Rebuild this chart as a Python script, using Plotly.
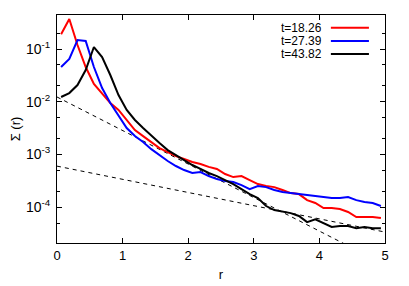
import plotly.graph_objects as go

r = [0.0625 + 0.125 * i for i in range(40)]

sig_t18 = [0.19, 0.37, 0.119, 0.0455, 0.0217, 0.0146, 0.00944, 0.00697, 0.0045, 0.0029,
           0.00223, 0.00172, 0.00132, 0.00111, 0.00093, 0.00082, 0.00072, 0.00066, 0.00058, 0.00053,
           0.000425, 0.000372, 0.000389, 0.000327, 0.000274, 0.000251, 0.00024, 0.000211, 0.000185, 0.000177,
           0.000136, 0.00012, 0.000096, 0.000096, 0.000092, 0.000081, 0.000065, 0.000065, 0.000065, 0.000062]

sig_t27 = [0.0455, 0.0646, 0.148, 0.142, 0.0455, 0.0182, 0.00944, 0.0056, 0.00317, 0.00223,
           0.00172, 0.00126, 0.00097, 0.00075, 0.000603, 0.000506, 0.000444, 0.000463, 0.000389, 0.000341,
           0.000313, 0.000299, 0.000262, 0.00022, 0.000251, 0.00024, 0.000211, 0.000194, 0.000185, 0.000177,
           0.00017, 0.000163, 0.000156, 0.000149, 0.000149, 0.000156, 0.000136, 0.000125, 0.00012, 0.000105]

sig_t43 = [0.0123, 0.0146, 0.0207, 0.04, 0.109, 0.0705, 0.0321, 0.0134, 0.00697, 0.0045,
           0.00317, 0.00223, 0.00164, 0.00121, 0.00097, 0.00078, 0.00063, 0.00053, 0.000444, 0.000389,
           0.000327, 0.000274, 0.00022, 0.000177, 0.000149, 0.000105, 0.000088, 0.000081, 0.000077, 0.000068,
           0.000052, 0.000059, 0.00005, 0.000042, 0.000044, 0.000044, 0.00004, 0.000042, 0.00004, 0.00004]

fit1_r = [0.0, 4.5]
fit1_s = [0.0123, 1.69e-5]
fit2_r = [0.0, 5.0]
fit2_s = [6.0e-4, 3.37e-5]

labels = ["t=18.26", "t=27.39", "t=43.82"]
colors = ["#ff0000", "#0000ff", "#000000"]
series = [sig_t18, sig_t27, sig_t43]

ytick_vals = [1e-4, 1e-3, 1e-2, 1e-1]
ytick_text = ["10<sup>-4</sup>", "10<sup>-3</sup>", "10<sup>-2</sup>", "10<sup>-1</sup>"]
yminor_vals = [2e-5, 5e-5, 2e-4, 5e-4, 2e-3, 5e-3, 2e-2, 5e-2, 2e-1]

FONT = "Liberation Sans, Arial, sans-serif"

fig = go.Figure()
for fr, fs in [(fit1_r, fit1_s), (fit2_r, fit2_s)]:
    fig.add_trace(go.Scatter(x=fr, y=fs, mode="lines",
                             line=dict(color="black", width=1, dash="4px,4px"),
                             showlegend=False, hoverinfo="skip"))
for s, c in zip(series, colors):
    fig.add_trace(go.Scatter(x=r, y=s, mode="lines",
                             line=dict(color=c, width=2),
                             showlegend=False))

# gnuplot-style legend: text right-aligned, sample line to the right
rows_y = [0.944, 0.886, 0.829]
for lab, c, yy in zip(labels, colors, rows_y):
    fig.add_annotation(x=0.811, y=yy, xref="paper", yref="paper", text=lab,
                       showarrow=False, xanchor="right", yanchor="middle",
                       height=11, borderpad=0,
                       font=dict(family=FONT, size=12, color="black"))
    fig.add_shape(type="line", xref="paper", yref="paper",
                  x0=0.835, x1=0.951, y0=yy, y1=yy,
                  line=dict(color=c, width=2))

# page body has an 8px margin: figure is sized to the visible area
fig.update_layout(
    width=401, height=278,
    margin=dict(l=49, r=24, t=7, b=43),
    paper_bgcolor="white", plot_bgcolor="white",
    font=dict(family=FONT, size=12, color="black"),
    showlegend=False,
)
fig.update_xaxes(
    range=[0, 5], tickvals=[0, 1, 2, 3, 4, 5],
    showline=True, linecolor="black", linewidth=1, mirror="ticks",
    ticks="inside", ticklen=5, tickcolor="black",
    showgrid=False, zeroline=False, automargin=False,
    title=dict(text="r", standoff=8, font=dict(size=13)),
    tickfont=dict(size=13),
)
fig.update_yaxes(
    type="log", range=[-4.68, -0.355],
    tickvals=ytick_vals, ticktext=ytick_text,
    showline=True, linecolor="black", linewidth=1, mirror="ticks",
    ticks="inside", ticklen=5, tickcolor="black",
    minor=dict(tickvals=yminor_vals, ticks="inside", ticklen=3, tickcolor="black"),
    showgrid=False, zeroline=False, automargin=False,
    title=dict(text="Σ (r)", standoff=10, font=dict(size=13)),
    tickfont=dict(size=14),
    ticklabelstandoff=3,
)

fig.write_html("out.html")
